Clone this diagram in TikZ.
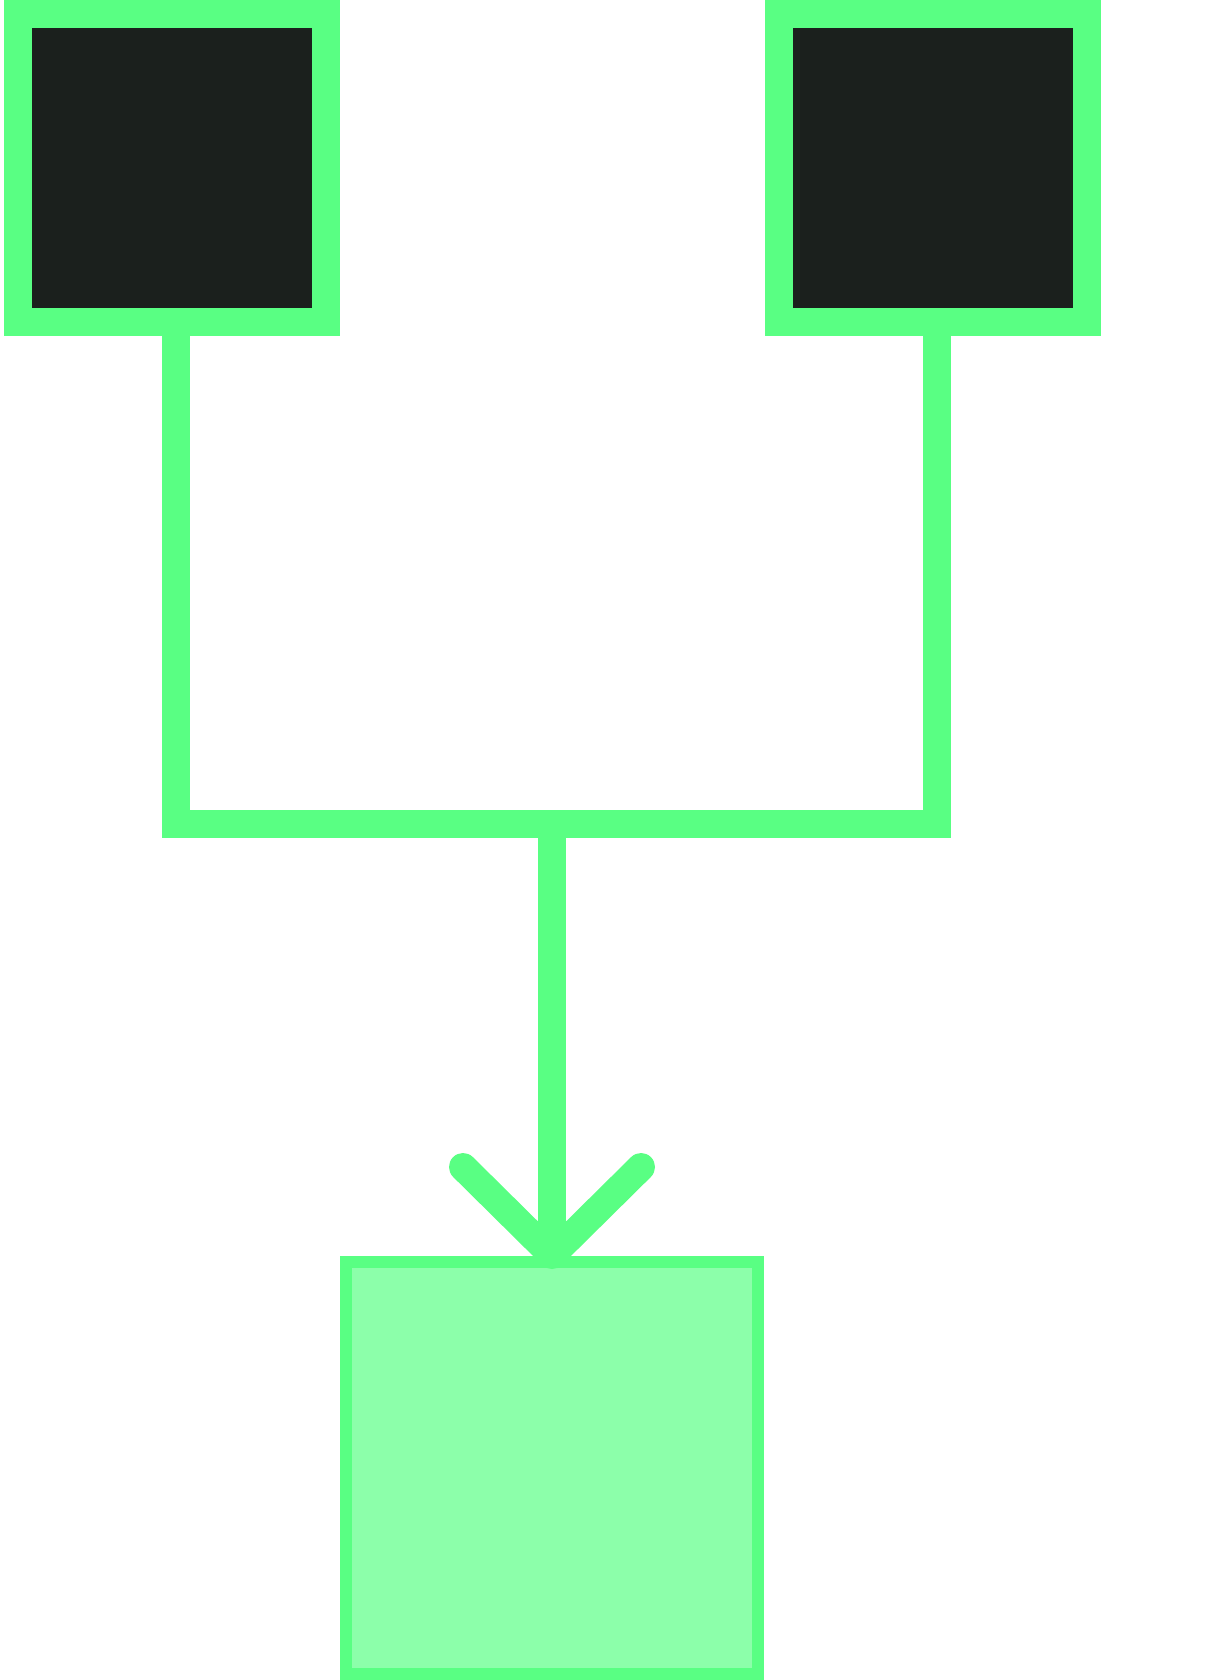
\documentclass[tikz,border=0pt]{standalone}
\usetikzlibrary{arrows.meta}
\definecolor{figG}{RGB}{89,255,131}
\definecolor{figD}{RGB}{27,32,29}
\definecolor{figL}{RGB}{140,255,170}

\begin{document}
\begin{tikzpicture}[x=0.5pt,y=-0.5pt,
  srcbox/.style={draw=figG,fill=figD,line width=14pt,minimum size=154pt,inner sep=0pt,outer sep=0pt},
  dstbox/.style={draw=figG,fill=figL,line width=6pt,minimum size=206pt,inner sep=0pt,outer sep=0pt},
  wire/.style={figG,line width=14pt},
  >={Straight Barb[length=44pt,width=89pt,line cap=round,line join=round]}]
\useasboundingbox (0,0) rectangle (1207,1680);
\node[srcbox] (lsrc) at (172,168) {};
\node[srcbox] (rsrc) at (933,168) {};
\node[dstbox] (sink) at (552,1468) {};
\coordinate (join) at (552,824);
\draw[wire] ([xshift=2pt]lsrc.south) -- ++(0,502) -| ([xshift=2pt]rsrc.south);
\draw[wire,->] (join) -- ([yshift=-3.5pt]sink.north);
\end{tikzpicture}
\end{document}
